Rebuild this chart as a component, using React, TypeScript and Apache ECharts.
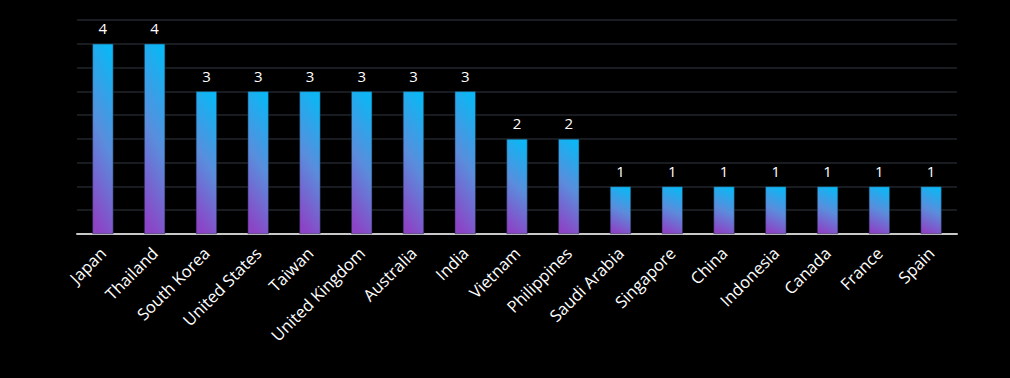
import React, { useEffect, useRef } from "react";
import * as echarts from "echarts";

const categories = [
  "Japan", "Thailand", "South Korea", "United States", "Taiwan", "United Kingdom",
  "Australia", "India", "Vietnam", "Philippines", "Saudi Arabia", "Singapore",
  "China", "Indonesia", "Canada", "France", "Spain",
];
const values = [4, 4, 3, 3, 3, 3, 3, 3, 2, 2, 1, 1, 1, 1, 1, 1, 1];

export default function App() {
  const ref = useRef<HTMLDivElement>(null);
  useEffect(() => {
    const chart = echarts.init(ref.current!, null, { renderer: "svg" });
    chart.setOption({
      animation: false,
      backgroundColor: "#000000",
      textStyle: { fontFamily: "'Open Sans', Lato, sans-serif" },
      grid: { left: 77, right: 53, top: 20, bottom: 144 },
      xAxis: {
        type: "category",
        data: categories,
        axisLine: { show: true, lineStyle: { color: "#c8c8c8", width: 2 } },
        axisTick: { show: false },
        axisLabel: {
          rotate: 45,
          color: "#ffffff",
          fontSize: 16.5,
          margin: 16,
          interval: 0,
        },
      },
      yAxis: {
        type: "value",
        min: 0,
        max: 4.5,
        interval: 0.5,
        axisLabel: { show: false },
        axisLine: { show: false },
        axisTick: { show: false },
        splitLine: { lineStyle: { color: "#181c21", width: 2 } },
      },
      series: [
        {
          type: "bar",
          data: values,
          barWidth: 21,
          itemStyle: {
            color: new echarts.graphic.LinearGradient(0.6, 0, 0.4, 1, [
              { offset: 0, color: "#0db6f4" },
              { offset: 0.5, color: "#5a8ddc" },
              { offset: 1, color: "#8c44c6" },
            ]),
            borderColor: "#1a2a3a",
            borderWidth: 0.5,
          },
          label: {
            show: true,
            position: "top",
            color: "#ffffff",
            fontSize: 15,
            distance: 8,
          },
        },
      ],
    });
    return () => chart.dispose();
  }, []);
  return <div ref={ref} style={{ width: 1010, height: 378, position: "absolute", left: 0, top: 0 }} />;
}
